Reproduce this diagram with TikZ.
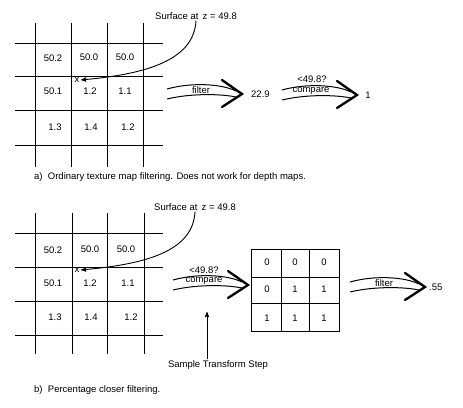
\documentclass[tikz,border=0pt]{standalone}
\usepackage{fontspec}
\setmainfont{Liberation Sans}
\usepackage{tikz}
\usetikzlibrary{arrows}
\usetikzlibrary{positioning}
\newcommand{\fatarrow}[1]{%
  \begin{scope}[shift={(#1)}]
    \draw[band] (-75,-5) .. controls (-50,-12) and (-20,-10) .. (-6,-3);
    \draw[band] (-75,5) .. controls (-50,-1) and (-20,0) .. (-6,3);
    \draw[head] (-20,-14) -- (0,0) -- (-20,13);
  \end{scope}}

\begin{document}
\begin{tikzpicture}[x=1pt,y=-1pt,>=stealth',
    every node/.style={font=\fontsize{9.5}{11}\selectfont,inner sep=1pt},
    grid line/.style={line width=0.9pt},
    band/.style={line width=1pt},
    head/.style={line width=2.3pt,line cap=round,line join=miter},
    pointer/.style={->,line width=0.9pt,shorten >=1pt}]
  \useasboundingbox (0,0) rectangle (463,407);
  % a) ordinary filtering
  \begin{scope}
    \draw[grid line] (35,23) -- (35,167);
    \draw[grid line] (71,23) -- (71,167);
    \draw[grid line] (107,23) -- (107,167);
    \draw[grid line] (143,23) -- (143,167);
    \draw[grid line] (15,43) -- (163,43);
    \draw[grid line] (15,76) -- (163,76);
    \draw[grid line] (15,110) -- (163,110);
    \draw[grid line] (15,145) -- (163,145);
    \node (a11) at (53,58) {50.2};
    \node (a12) at (89,57) {50.0};
    \node (a13) at (125,57) {50.0};
    \node (a21) at (53,91) {50.1};
    \node (a22) at (90,91) {1.2};
    \node (a23) at (125,91) {1.1};
    \node (a31) at (55,127) {1.3};
    \node (a32) at (91,127) {1.4};
    \node (a33) at (128,127) {1.2};
    \node[inner sep=0.5pt] (ax) at (77,80) {x};
    \node (asurf) at (196,16) {Surface at\, z = 49.8};
    \draw[pointer] (asurf.south) .. controls +(-2,38) and +(70,-6) .. (ax.east);
    \coordinate (af) at (242,94);
    \fatarrow{af}
    \node (afl) at (201,90) {filter};
    \node[anchor=west] (aval) at (250,94) {22.9};
    \coordinate (ac) at (357,95);
    \fatarrow{ac}
    \node (acq) at (312,79) {<49.8?};
    \node (acl) at (311,91) {compare};
    \node (aone) at (368,95) {1};
    \node[anchor=west] (acap) at (33,177) {a)\ \ Ordinary texture map filtering. Does not work for depth maps.};
  \end{scope}
  % b) percentage closer filtering
  \begin{scope}
    \draw[grid line] (35,213) -- (35,354);
    \draw[grid line] (72,213) -- (72,354);
    \draw[grid line] (107,213) -- (107,354);
    \draw[grid line] (144,213) -- (144,354);
    \draw[grid line] (15,233) -- (163,233);
    \draw[grid line] (15,267) -- (163,267);
    \draw[grid line] (15,301) -- (163,301);
    \draw[grid line] (15,335) -- (163,335);
    \node (b11) at (53,250) {50.2};
    \node (b12) at (90,249) {50.0};
    \node (b13) at (126,249) {50.0};
    \node (b21) at (53,283) {50.1};
    \node (b22) at (90,283) {1.2};
    \node (b23) at (128,283) {1.1};
    \node (b31) at (55,317) {1.3};
    \node (b32) at (91,317) {1.4};
    \node (b33) at (131,317) {1.2};
    \node[inner sep=0.5pt] (bx) at (77,270) {x};
    \node (bsurf) at (195,207) {Surface at\, z = 49.8};
    \draw[pointer] (bsurf.south) .. controls +(-2,38) and +(70,-6) .. (bx.east);
    \coordinate (bc) at (248,285);
    \fatarrow{bc}
    \node (bcq) at (204,270) {<49.8?};
    \node (bcl) at (204,281) {compare};
    \node (bstep) at (218,365) {Sample Transform Step};
    \coordinate (bup) at (207,311);
    \draw[pointer] (bstep.north -| bup) -- (bup);
    % result of the compare
    \draw[grid line] (251,249) rectangle (339,331);
    \draw[grid line] (281,249) -- (281,331);
    \draw[grid line] (309,249) -- (309,331);
    \draw[grid line] (251,277) -- (339,277);
    \draw[grid line] (251,303) -- (339,303);
    \node (c11) at (267,262) {0};
    \node (c12) at (295,262) {0};
    \node (c13) at (324,262) {0};
    \node (c21) at (267,289) {0};
    \node (c22) at (295,289) {1};
    \node (c23) at (324,289) {1};
    \node (c31) at (267,318) {1};
    \node (c32) at (295,318) {1};
    \node (c33) at (324,318) {1};
    \coordinate (bf) at (425,287);
    \fatarrow{bf}
    \node (bfl) at (384,283) {filter};
    \node[anchor=west] (bval) at (428,287) {.55};
    \node[anchor=west] (bcap) at (33,390) {b)\ \ Percentage closer filtering.};
  \end{scope}
\end{tikzpicture}
\end{document}
